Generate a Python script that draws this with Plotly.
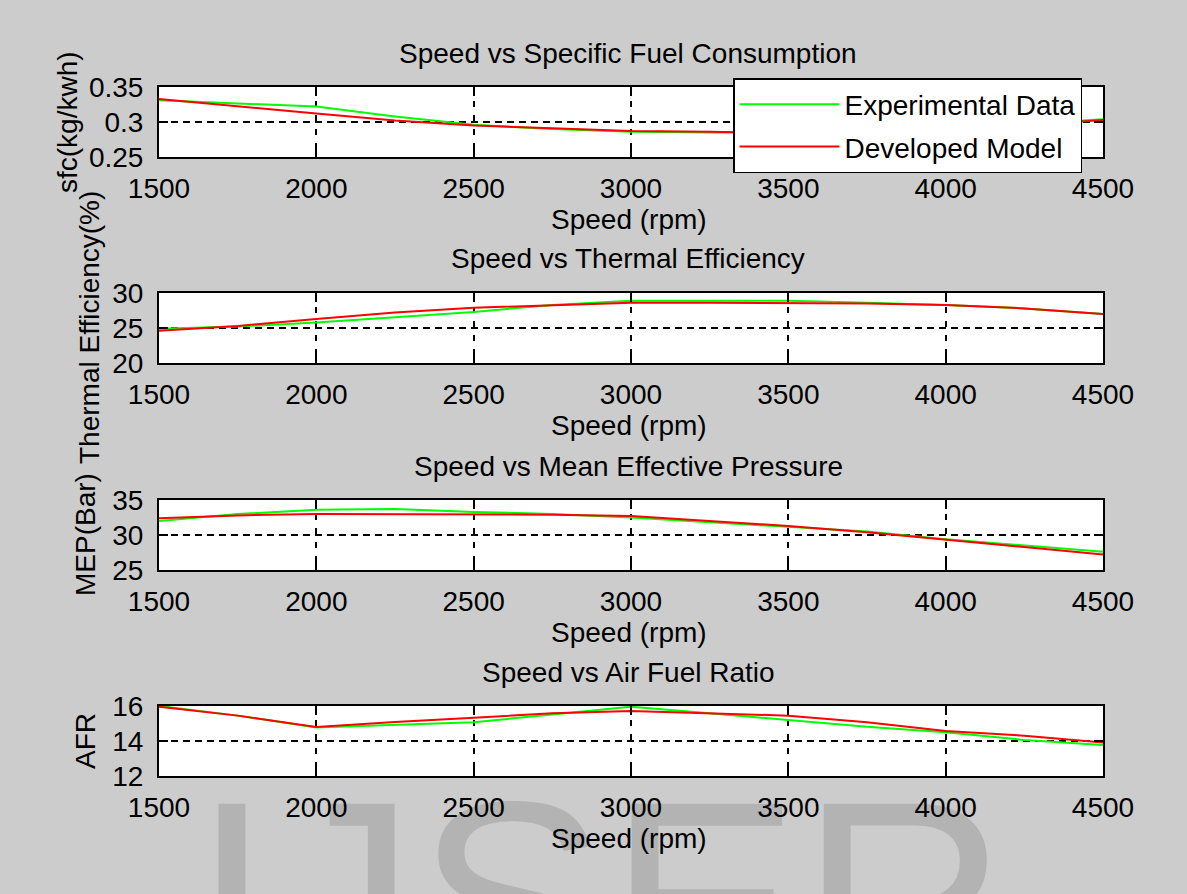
import plotly.graph_objects as go

# ---------------- data ----------------
speed = [1500, 1750, 2000, 2250, 2500, 2750, 3000, 3250, 3500, 3750, 4000, 4250, 4500]

sfc_exp = [0.331, 0.326, 0.322, 0.308, 0.296, 0.290, 0.286, 0.285, 0.285, 0.287, 0.291, 0.297, 0.304]
sfc_model = [0.333, 0.322, 0.312, 0.302, 0.295, 0.291, 0.287, 0.286, 0.284, 0.285, 0.289, 0.295, 0.303]

te_exp = [24.9, 25.2, 25.8, 26.6, 27.3, 28.3, 28.9, 28.9, 28.9, 28.6, 28.3, 27.8, 27.0]
te_model = [24.6, 25.3, 26.3, 27.2, 27.9, 28.2, 28.6, 28.6, 28.6, 28.5, 28.3, 27.8, 27.0]

mep_exp = [32.0, 33.0, 33.6, 33.7, 33.3, 33.0, 32.5, 31.8, 31.2, 30.5, 29.4, 28.5, 27.6]
mep_model = [32.4, 32.8, 33.0, 33.0, 33.0, 32.9, 32.7, 32.0, 31.3, 30.4, 29.3, 28.3, 27.2]

afr_exp = [16.0, 15.45, 14.77, 14.91, 15.07, 15.52, 15.96, 15.58, 15.2, 14.82, 14.5, 14.06, 13.77]
afr_model = [15.96, 15.45, 14.8, 15.09, 15.33, 15.58, 15.71, 15.58, 15.45, 15.07, 14.57, 14.3, 13.92]

x_ticks = [1500, 2000, 2500, 3000, 3500, 4000, 4500]
sfc_ticks = [0.25, 0.30, 0.35]
sfc_ticktext = ["0.25", "0.3", "0.35"]
te_ticks = [20, 25, 30]
mep_ticks = [25, 30, 35]
afr_ticks = [12, 14, 16]

titles = ["Speed vs Specific Fuel Consumption", "Speed vs Thermal Efficiency",
          "Speed vs Mean Effective Pressure", "Speed vs Air Fuel Ratio"]
y_labels = ["sfc(kg/kwh)", "Thermal Efficiency(%)", "MEP(Bar)", "AFR"]
x_label = "Speed (rpm)"
series_names = ["Experimental Data", "Developed Model"]
watermark = "IJSER"

# ---------------- layout helpers ----------------
W, H = 1187, 894
FONT = "Liberation Sans, Arial, sans-serif"
FS = 28
plot_left, plot_right = 159, 1103
plot_tops = [87, 293, 500, 706]
plot_h = 70


def px(x):
    return x / W


def py(y):
    return 1 - y / H


fig = go.Figure()

panels = [
    (sfc_exp, sfc_model, sfc_ticks, sfc_ticktext),
    (te_exp, te_model, te_ticks, [str(v) for v in te_ticks]),
    (mep_exp, mep_model, mep_ticks, [str(v) for v in mep_ticks]),
    (afr_exp, afr_model, afr_ticks, [str(v) for v in afr_ticks]),
]

for i, (exp, mod, yt, ytt) in enumerate(panels):
    n = "" if i == 0 else str(i + 1)
    fig.add_trace(go.Scatter(x=speed, y=exp, mode="lines", name=series_names[0],
                             line=dict(color="#00ff00", width=2), legendgroup="exp",
                             xaxis="x" + n, yaxis="y" + n, showlegend=(i == 0)))
    fig.add_trace(go.Scatter(x=speed, y=mod, mode="lines", name=series_names[1],
                             line=dict(color="#ff0000", width=2), legendgroup="mod",
                             xaxis="x" + n, yaxis="y" + n, showlegend=(i == 0)))
    top = plot_tops[i]
    bottom = top + plot_h
    common = dict(showline=True, linewidth=2, linecolor="black", mirror="ticks",
                  ticks="inside", ticklen=9, tickwidth=2, tickcolor="black",
                  showgrid=True, gridcolor="black", gridwidth=2, zeroline=False,
                  automargin=False,
                  tickfont=dict(family=FONT, size=FS, color="black"))
    fig.update_layout(**{
        "xaxis" + n: dict(domain=[px(plot_left), px(plot_right)], range=[1500, 4500],
                          tickvals=x_ticks, ticktext=[str(v) for v in x_ticks],
                          anchor="y" + n, griddash="6px,8px", ticklabelstandoff=5, **common),
        "yaxis" + n: dict(domain=[py(bottom), py(top)], range=[yt[0], yt[-1]],
                          tickvals=yt, ticktext=ytt, anchor="x" + n,
                          griddash="7px,5px", ticklabelstandoff=8, **common),
    })

annotations = []
label_x = [67, 89, 85, 85]
for i in range(4):
    top = plot_tops[i]
    bottom = top + plot_h
    annotations.append(dict(text=titles[i], x=px(628), y=py(top - 34), xref="paper", yref="paper",
                            showarrow=False, xanchor="center", yanchor="middle",
                            font=dict(family=FONT, size=FS, color="black")))
    annotations.append(dict(text=x_label, x=px(629), y=py(bottom + 62), xref="paper", yref="paper",
                            showarrow=False, xanchor="center", yanchor="middle",
                            font=dict(family=FONT, size=FS, color="black")))
    annotations.append(dict(text=y_labels[i], x=px(label_x[i]), y=py(top + plot_h / 2),
                            xref="paper", yref="paper", showarrow=False, textangle=-90,
                            xanchor="center", yanchor="middle",
                            font=dict(family=FONT, size=FS, color="black")))

fig.update_layout(
    width=W, height=H,
    margin=dict(l=0, r=0, t=0, b=0, autoexpand=False),
    paper_bgcolor="#cccccc", plot_bgcolor="white",
    annotations=annotations,
    shapes=[dict(type="rect", xref="paper", yref="paper",
                 x0=px(100), x1=px(1100), y0=py(1068), y1=py(682),
                 line=dict(width=0), fillcolor="rgba(0,0,0,0)", layer="below",
                 label=dict(text=watermark, textposition="middle center",
                            font=dict(family=FONT, size=288, color="#b3b3b3")))],
    legend=dict(x=px(733), y=py(78), xanchor="left", yanchor="top",
                bgcolor="white", bordercolor="black", borderwidth=1.5,
                font=dict(family=FONT, size=FS, color="black"), itemwidth=100,
                tracegroupgap=3, entrywidth=360, entrywidthmode="pixels"),
    showlegend=True,
)

fig.write_html("out.html", config={"displayModeBar": False},
               post_script="document.body.style.margin='0';")
